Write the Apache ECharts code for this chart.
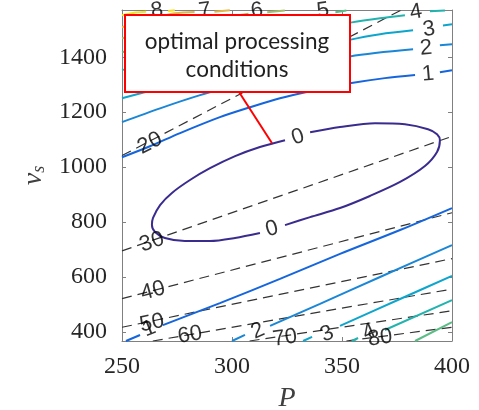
<!DOCTYPE html>
<html>
<head>
<meta charset="utf-8">
<script src="https://cdn.jsdelivr.net/npm/echarts@6/dist/echarts.min.js"></script>
<style>
  html, body { margin: 0; padding: 0; background: #fff; }
  #chart { width: 479px; height: 410px; }
</style>
</head>
<body>
<div id="chart"></div>
<script>
// axis ticks
const xTicks = [250, 300, 350, 400]
const yTicks = [400, 600, 800, 1000, 1200, 1400]

// contour levels (P, v_s), '-' marks a gap for an inline label
const level0 = [
  [335.5, 1127], [349.1, 1146], [365, 1160], [378.6, 1156], [389.1, 1138], [393.2, 1120], [394.5, 1098],
  [393.2, 1055], [387.7, 1004], [376.4, 946], [362.7, 895], [349.1, 851], [335.5, 818], [324.1, 789],
  '-',
  [312.7, 760], [301.4, 742], [290, 731], [278.6, 731], [269.5, 742], [265, 764], [263.6, 789],
  [264.1, 815], [267.3, 862], [272.7, 906], [280.9, 953], [290, 996], [301.4, 1040], [312.7, 1073], [324.1, 1098]
]
const level1 = [
  [250, 1036], [262.7, 1076], [276.4, 1124], [294.5, 1182], [308.2, 1218], [321.8, 1251], [337.7, 1280],
  [353.6, 1305], [369.5, 1324], [383.2, 1335], '-', [394.5, 1345], [400, 1353],
  '-',
  [251.8, 367], [258.2, 389], '-', [268.6, 425], [294.5, 505], [321.8, 593], [349.1, 684], [376.4, 771], [400, 851]
]
const level2 = [
  [250, 1164], [267.3, 1214], [285.5, 1262], [303.6, 1302], [326.4, 1353], [353.6, 1403], [382.3, 1429],
  '-', [394.5, 1444], [400, 1447],
  '-',
  [300, 367], [305.9, 389], '-', [317.3, 422], [340, 502], [367.3, 600], [400, 716]
]
const level3 = [
  [250, 1251], [267.3, 1287], [285.5, 1324], [308.2, 1371], [330.9, 1414], [354.5, 1465], [367.3, 1484],
  [382.3, 1498], '-', [395.9, 1516], [400, 1520],
  '-',
  [332.3, 367], [336.4, 382], '-', [349.1, 422], [376.4, 520], [400, 604]
]
const level4 = [
  [250, 1353], [285.5, 1425], [321.8, 1480], [354.5, 1527], [367.3, 1542], [378.6, 1553],
  '-', [390, 1567], [396.8, 1570],
  '-',
  [354.5, 367], [357.3, 378], '-', [369.5, 407], [400, 516]
]
const level5 = [
  [250, 1418], [285.5, 1487], [317, 1540], [335, 1554], '-', [347, 1564], [352, 1570],
  '-',
  [383.2, 367], [400, 436]
]
const level6 = [[250, 1469], [285.5, 1527], [301, 1550], [307.5, 1558], '-', [316, 1564], [324, 1570]]
const level7 = [[250, 1509], [265, 1543], [274, 1560], [283, 1565], '-', [292, 1566], [299, 1571]]
const level8 = [[250, 1553], [256, 1563], [261, 1566], '-', [271, 1568], [274, 1571]]

const levels = [level0, level1, level2, level3, level4, level5, level6, level7, level8]
const levelColors = ['#3a2c8e', '#1565dc', '#1a86d6', '#0ea5cc', '#22b3ae', '#5cbc86', '#a5be6a', '#e3b84a', '#f5e322']

// dashed iso-lines 20..80 (straight)
const dashed20 = [[250, 1042], [376.7, 1571]]
const dashed30 = [[250, 695], [400, 1112]]
const dashed40 = [[250, 521], [400, 834]]
const dashed50 = [[250, 417], [400, 667]]
const dashed60 = [[264, 367], [400, 556]]
const dashed70 = [[308, 367], [400, 477]]
const dashed80 = [[352, 367], [400, 417]]
const dashedLines = [dashed20, dashed30, dashed40, dashed50, dashed60, dashed70, dashed80]

// inline contour labels
const labelText = ['0', '0', '1', '2', '3', '4', '5', '6', '7', '8', '1', '2', '3', '4', '20', '30', '40', '50', '60', '70', '80']
const labelP = [330, 318.2, 389.1, 388.2, 389.5, 383.6, 341.4, 311.4, 287.7, 265.9, 262.3, 311.8, 343.2, 362.3, 262.7, 263.6, 264.1, 263.6, 280.9, 324.1, 367.3]
const labelV = [1109, 774.5, 1338, 1432.7, 1501.7, 1563.5, 1570, 1570, 1570, 1570, 410.9, 403.6, 392.7, 400, 1087.2, 727.2, 549.1, 432.7, 389.1, 378.2, 378.2]
const labelAngle = [18, 16, 5, 5, 8, 10, 8, 8, 8, 8, 22, 24, 24, 24, 27, 19, 15, 12, 10, 8, 8]

const pointerAt = [318.2, 1087]

const chart = echarts.init(document.getElementById('chart'))

const frameColor = '#808080'
const serif = 'Liberation Serif'

const series = []
dashedLines.forEach((d) => {
  series.push({
    type: 'line',
    data: d,
    showSymbol: false,
    silent: true,
    z: 2,
    lineStyle: { color: '#333', width: 1.2, type: [10, 6] }
  })
})
levels.forEach((d, i) => {
  series.push({
    type: 'line',
    data: d,
    showSymbol: false,
    smooth: 0.3,
    silent: true,
    z: 3,
    lineStyle: { color: levelColors[i], width: 2 }
  })
})
series.push({
  type: 'scatter',
  symbolSize: 0,
  clip: false,
  silent: true,
  z: 5,
  data: labelText.map((t, i) => ({
    value: [labelP[i], labelV[i]],
    label: { formatter: t, rotate: labelAngle[i] }
  })),
  label: {
    show: true,
    position: 'inside',
    fontFamily: 'Liberation Sans',
    fontSize: 22,
    color: '#000'
  }
})

const axisCommon = {
  axisLine: { show: true, onZero: false, lineStyle: { color: frameColor, width: 1 } },
  axisTick: { show: true, inside: true, length: 4, lineStyle: { color: frameColor } },
  splitLine: { show: false }
}
const plain = (v) => String(v)

chart.setOption({
  animation: false,
  grid: { left: 122, right: 27, top: 10, bottom: 69, outerBoundsMode: 'none', containLabel: false },
  xAxis: [
    {
      type: 'value', min: 250, max: 400, interval: 50, position: 'bottom',
      ...axisCommon,
      axisLabel: { fontFamily: serif, fontSize: 24, color: '#262626', margin: 14, formatter: plain },
      name: 'P', nameLocation: 'middle', nameGap: 44,
      nameTextStyle: { fontFamily: serif, fontStyle: 'italic', fontSize: 28, color: '#404040' }
    },
    {
      type: 'value', min: 250, max: 400, interval: 50, position: 'top',
      ...axisCommon, axisLabel: { show: false }
    }
  ],
  yAxis: [
    {
      type: 'value', min: 367, max: 1572, position: 'left',
      ...axisCommon,
      axisTick: { ...axisCommon.axisTick, customValues: yTicks },
      axisLabel: { fontFamily: serif, fontSize: 24, color: '#262626', margin: 15, customValues: yTicks, formatter: plain },
      name: '{v|v}{s|s}', nameLocation: 'middle', nameGap: 71, nameRotate: 90,
      nameTextStyle: {
        rich: {
          v: { fontFamily: serif, fontStyle: 'italic', fontSize: 28, color: '#404040' },
          s: { fontFamily: serif, fontStyle: 'italic', fontSize: 18, color: '#404040', verticalAlign: 'bottom' }
        }
      }
    },
    {
      type: 'value', min: 367, max: 1572, position: 'right',
      ...axisCommon,
      axisTick: { ...axisCommon.axisTick, customValues: yTicks },
      axisLabel: { show: false }
    }
  ],
  series: series
})

// annotation box with pointer to the 0 contour
const tip = chart.convertToPixel({ xAxisIndex: 0, yAxisIndex: 0 }, pointerAt)
chart.setOption({
  graphic: [
    {
      type: 'line', z: 100,
      shape: { x1: 239, y1: 92, x2: tip[0], y2: tip[1] },
      style: { stroke: '#ff0000', lineWidth: 2 }
    },
    {
      type: 'rect', z: 101,
      shape: { x: 125, y: 15, width: 225, height: 77 },
      style: { fill: '#fff', stroke: '#ff0000', lineWidth: 2 }
    },
    {
      type: 'text', z: 102, x: 237, y: 42,
      style: { text: 'optimal processing', fontFamily: 'Lato', fontSize: 22.5, fill: '#1f1f1f', align: 'center', verticalAlign: 'middle' }
    },
    {
      type: 'text', z: 102, x: 237, y: 70,
      style: { text: 'conditions', fontFamily: 'Lato', fontSize: 22.5, fill: '#1f1f1f', align: 'center', verticalAlign: 'middle' }
    }
  ]
})
</script>
</body>
</html>
